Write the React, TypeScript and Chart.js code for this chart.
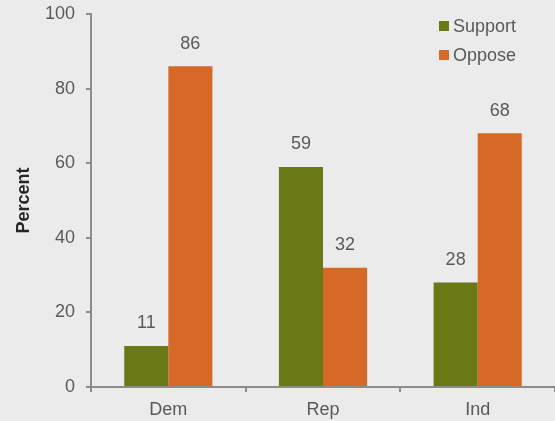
import React, { useEffect, useRef } from "react";
import { Chart, registerables } from "chart.js";

Chart.register(...registerables);

const categories = ["Dem", "Rep", "Ind"];
const supportValues = [11, 59, 28];
const opposeValues = [86, 32, 68];
const yTicks = [0, 20, 40, 60, 80, 100];

const GREEN = "#6b7816";
const ORANGE = "#d76928";
const TEXT = "#595959";
const AXIS = "#8c8c8c";
const BG = "#ebebeb";
const FONT = "Liberation Sans, Arial, sans-serif";

const overlayPlugin = {
  id: "overlay",
  afterDatasetsDraw(chart: any) {
    const ctx = chart.ctx;
    ctx.save();
    ctx.font = `18px ${FONT}`;
    ctx.fillStyle = TEXT;
    ctx.textAlign = "center";
    ctx.textBaseline = "middle";
    chart.data.datasets.forEach((ds: any, i: number) => {
      const meta = chart.getDatasetMeta(i);
      meta.data.forEach((bar: any, j: number) => {
        ctx.fillText(String(ds.data[j]), bar.x, bar.y - 22.5);
      });
    });
    // legend
    const x = 439;
    const ys = [26, 55];
    chart.data.datasets.forEach((ds: any, i: number) => {
      ctx.fillStyle = ds.backgroundColor;
      ctx.fillRect(x, ys[i] - 5, 10, 10);
      ctx.fillStyle = TEXT;
      ctx.textAlign = "left";
      ctx.fillText(ds.label, x + 14, ys[i] + 1);
    });
    ctx.restore();
  },
};

export default function App() {
  const ref = useRef<HTMLCanvasElement>(null);
  useEffect(() => {
    document.body.style.margin = "0";
    document.body.style.background = BG;
    const chart = new Chart(ref.current!, {
      type: "bar",
      data: {
        labels: categories,
        datasets: [
          { label: "Support", data: supportValues, backgroundColor: GREEN },
          { label: "Oppose", data: opposeValues, backgroundColor: ORANGE },
        ],
      },
      options: {
        animation: false,
        responsive: false,
        layout: { padding: { top: 14, right: 0, left: 0, bottom: 0 } },
        plugins: { legend: { display: false }, tooltip: { enabled: false } },
        datasets: { bar: { categoryPercentage: 0.57, barPercentage: 1.0 } },
        scales: {
          x: {
            grid: { drawOnChartArea: false, drawTicks: true, tickLength: 5, color: AXIS, lineWidth: 2 },
            border: { color: AXIS, width: 2 },
            ticks: { color: TEXT, font: { size: 18, family: FONT }, padding: 7 },
            afterFit: (s: any) => { s.height = 34; s.paddingLeft = 0; s.paddingRight = 0; },
          },
          y: {
            min: 0,
            max: 100,
            afterBuildTicks: (s: any) => { s.ticks = yTicks.map((v) => ({ value: v })); },
            grid: { drawOnChartArea: false, drawTicks: true, tickLength: 5, color: AXIS, lineWidth: 2 },
            border: { color: AXIS, width: 2 },
            ticks: { color: TEXT, font: { size: 18, family: FONT }, padding: 11 },
            title: { display: true, text: "Percent", color: "#262626", font: { size: 18, weight: "bold", family: FONT }, padding: { top: 13, bottom: 0 } },
            afterFit: (s: any) => { s.width = 91; s.paddingTop = 0; s.paddingBottom = 0; },
          },
        },
      },
      plugins: [overlayPlugin],
    });
    return () => chart.destroy();
  }, []);
  return (
    <div style={{ width: 555, height: 421, background: BG }}>
      <canvas ref={ref} width={555} height={421} />
    </div>
  );
}
